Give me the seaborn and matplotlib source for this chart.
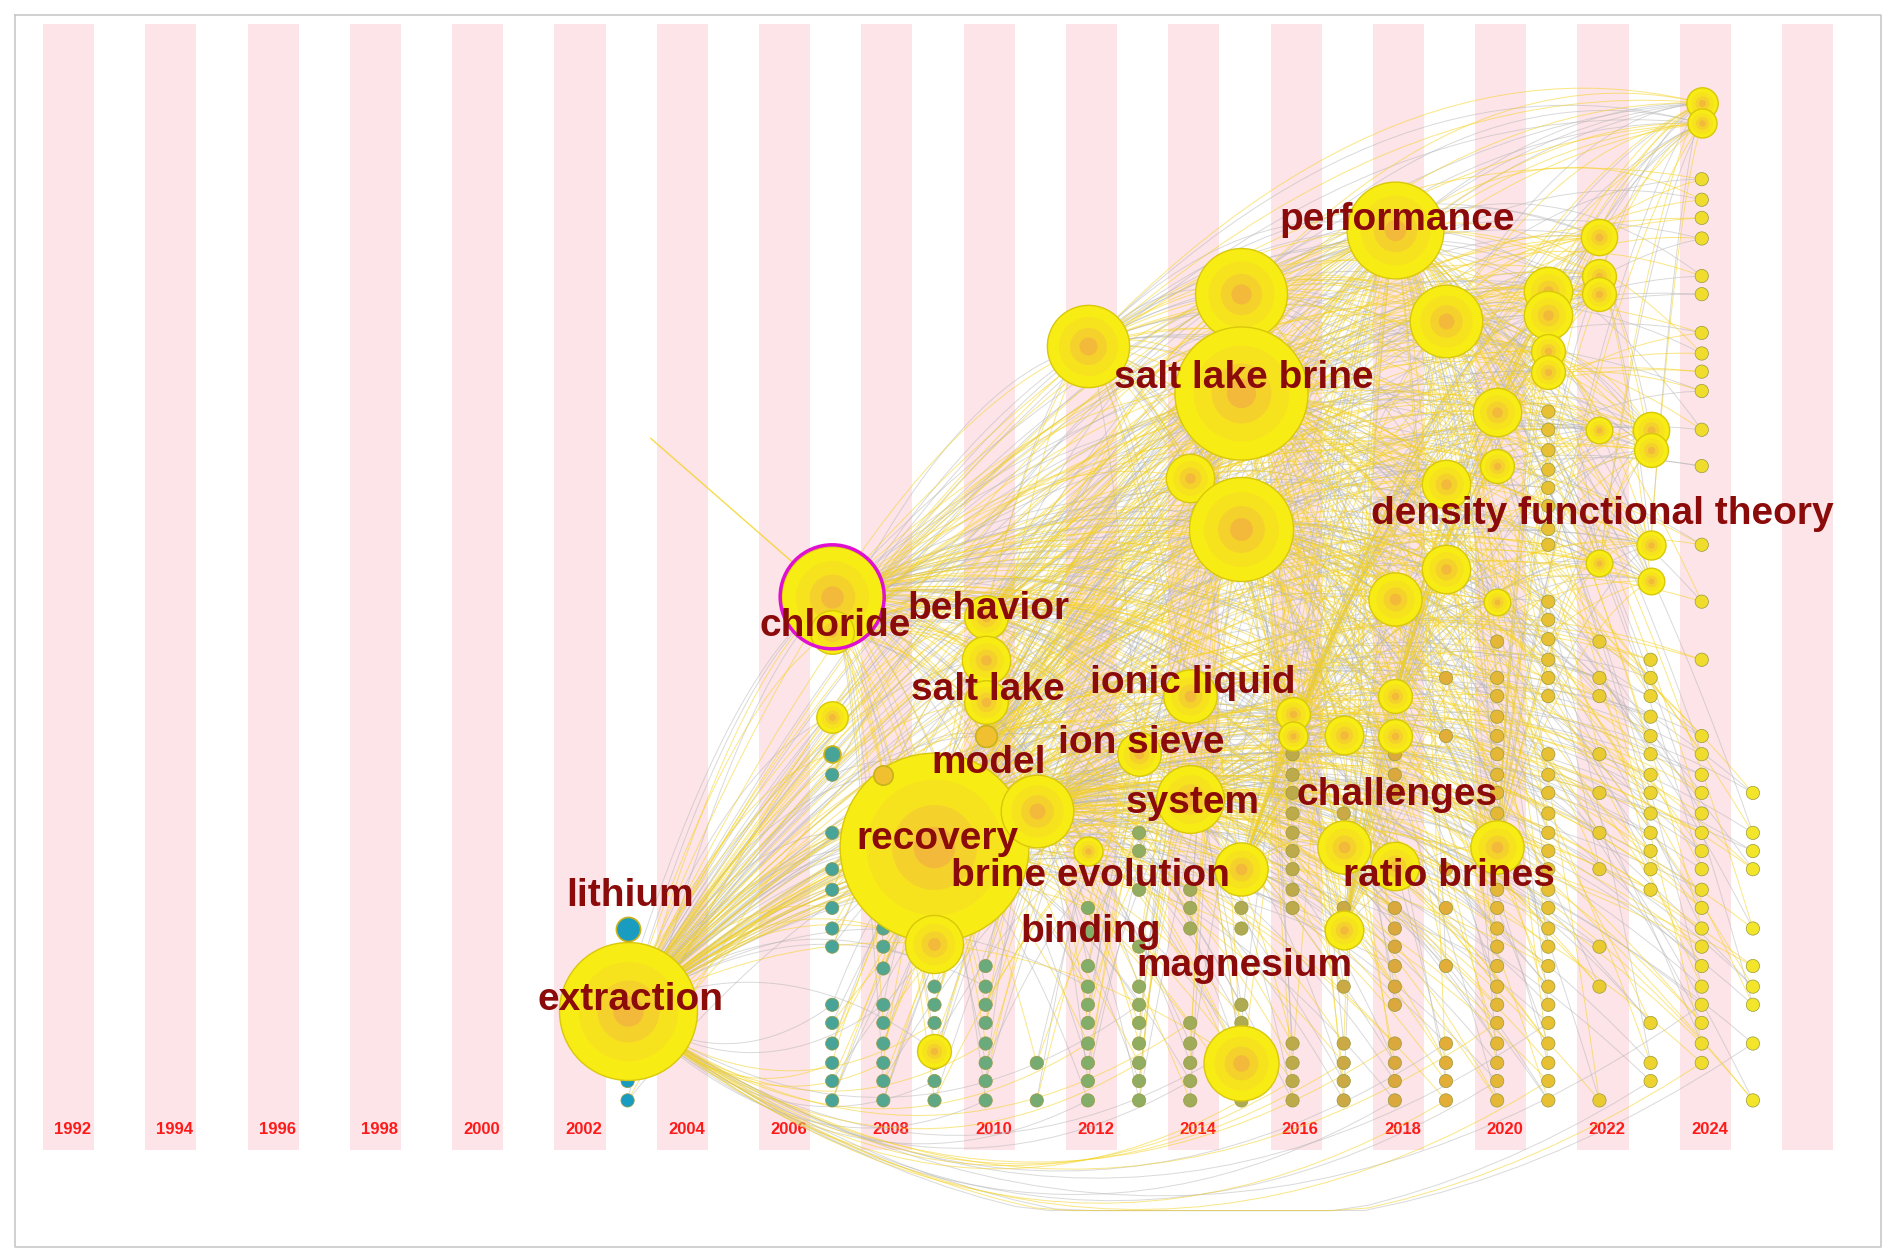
import numpy as np
import matplotlib
matplotlib.use("Agg")
import matplotlib.pyplot as plt
from matplotlib.collections import LineCollection
from matplotlib.colors import LinearSegmentedColormap
import seaborn as sns
import pandas as pd

sns.set_style("white")
plt.rcParams['font.family'] = ['Liberation Sans', 'DejaVu Sans']

years = list(range(1992, 2025, 2))
stripe_years = list(range(1992, 2027, 2))

# major nodes: (year, vertical position, radius)
node_year = [2003,2003,2007,2007,2007,2007,2009,2009,2009,2010,2010,2010,2010,2011,2008,2012,2012,2013,2014,2014,2014,
             2015,2015,2015,2015,2015,2016,2016,2017,2017,2017,2018,2018,2018,2018,2018,2019,2019,2019,2020,2020,2020,2020,
             2021,2021,2021,2021,2022,2022,2022,2022,2022,2023,2023,2023,2023,2024,2024]
node_y = [835,767,493,522,592,623,700,780,868,510,545,580,608,670,640,286,703,623,395,575,660,
          243,325,437,718,878,590,608,607,700,768,190,495,575,608,715,265,400,470,340,385,497,700,
          240,260,290,307,196,228,243,355,465,355,372,450,480,85,102]
node_r = [57,10,42,18,13,7,78,24,14,18,20,18,9,30,8,34,12,18,20,22,28,
          38,55,43,22,31,14,12,16,22,16,40,22,14,14,20,30,20,20,20,14,11,22,
          20,20,14,14,15,14,14,11,11,15,14,12,11,13,12]

# small nodes per year column
small_nodes = {
    2003: [815,830,846,862,878,893,909],
    2007: [640,688,718,735,750,767,782,830,845,862,878,893,909],
    2008: [700,735,750,767,782,800,830,845,862,878,893,909],
    2009: [798,815,830,845,862,878,893,909],
    2010: [655,670,750,798,815,830,845,862,878,893,909],
    2011: [878,909],
    2012: [750,770,798,815,830,845,862,878,893,909],
    2013: [688,703,735,782,815,830,845,862,878,893,909],
    2014: [735,750,767,845,862,878,893,909],
    2015: [750,767,830,845,862,878,893,909],
    2016: [623,640,655,672,688,703,718,735,750,862,878,893,909],
    2017: [672,750,815,862,878,893,909],
    2018: [623,640,655,750,767,782,798,815,830,862,878,893,909],
    2019: [560,608,718,750,798,862,878,893,909],
    2020: [530,560,575,592,608,623,640,655,672,688,735,750,767,782,798,815,830,845,862,878,893,909],
    2021: [340,355,372,388,403,418,437,450,497,512,528,545,560,575,623,640,655,672,688,703,718,735,750,767,782,798,815,830,845,862,878,893,909],
    2022: [530,560,575,623,655,688,718,782,815,909],
    2023: [545,560,575,592,608,623,640,655,672,688,703,718,735,845,878,893],
    2024: [148,165,180,197,228,243,275,292,307,323,355,385,450,497,545,608,623,640,655,672,688,703,718,735,750,767,782,798,815,830,845,862,878],
    2025: [655,688,703,718,767,798,815,830,862,909],
}

label_text = ["performance","salt lake brine","density functional theory","behavior","chloride","salt lake",
              "ionic liquid","ion sieve","model","system","challenges","recovery","brine evolution",
              "ratio brines","lithium","binding","magnesium","extraction"]
label_year = [2018,2015,2022,2010,2007,2010,2014,2013,2010,2014,2018,2009,2012,2019,2003,2012,2015,2003]
label_y = [182,312,425,503,517,570,564,614,630,663,657,693,724,724,740,770,798,826]

OFF = -0.15
PX = 42.28  # px per year in layout space

fig = plt.figure(figsize=(18.97, 12.59), dpi=100)
ax = fig.add_axes([0, 0, 1, 1])
XL = (1992 - 60 / PX, 1992 + (1568 - 60) / PX)
ax.set_xlim(*XL)
ax.set_ylim(1040, 0)
ax.axis('off')

x_fr0 = 1992 + (12 - 60) / PX
x_fr1 = 1992 + (1555 - 60) / PX
ax.plot([x_fr0, x_fr1, x_fr1, x_fr0, x_fr0], [12, 12, 1030, 1030, 12], color='#c8c8c8', lw=1.2, zorder=0)
for sy in stripe_years:
    ax.fill_between([sy - 0.08 - 0.5, sy - 0.08 + 0.5], 20, 950, color='#fde4e8', lw=0, zorder=0)
for yv in years:
    ax.text(yv, 933, str(yv), color='#ff1a1a', fontsize=12, fontweight='bold', ha='center', va='center', zorder=1)

cmap = LinearSegmentedColormap.from_list('yr', [(0, '#1a9cc0'), (0.4, '#7fae6a'), (0.7, '#e0a83a'), (1, '#f2e52a')])
def ycol(y):
    return cmap(np.clip((y - 2003) / 22.0, 0, 1))

all_x, all_y, all_year = [], [], []
for yr, r_y in zip(node_year, node_y):
    all_x.append(yr + OFF); all_y.append(r_y); all_year.append(yr)
for yr, ys in small_nodes.items():
    for v in ys:
        all_x.append(yr + OFF); all_y.append(v); all_year.append(yr)
nb = len(node_year)

segs_y, segs_g = [], []
t = np.linspace(0, 1, 30)
def curve(x0, y0, x1, y1, down=False):
    px0, px1 = x0 * PX, x1 * PX
    mx, my = (px0 + px1) / 2, (y0 + y1) / 2
    d = np.hypot(px1 - px0, y1 - y0)
    cy = my + 0.35 * d if down else my - 0.3 * d
    bx = (1 - t) ** 2 * px0 + 2 * t * (1 - t) * mx + t ** 2 * px1
    by = (1 - t) ** 2 * y0 + 2 * t * (1 - t) * cy + t ** 2 * y1
    by = np.clip(by, 30, 1000)
    return np.column_stack([bx / PX, by])

for i in range(nb):
    for j in range(i + 1, nb):
        if node_year[i] == node_year[j] or (i * 7 + j * 3) % 3 != 0:
            continue
        seg = curve(all_x[i], all_y[i], all_x[j], all_y[j])
        (segs_g if (i + j) % 2 == 0 else segs_y).append(seg)
for k in range(nb, len(all_x)):
    for h in [0, 6, 22, 31, 2, 13, 20, 23]:
        if all_year[k] == node_year[h] or (k + h) % 3 != 0:
            continue
        down = all_y[k] > 820 and all_y[h] > 800
        seg = curve(all_x[h], all_y[h], all_x[k], all_y[k], down=down)
        (segs_g if (k + h) % 2 == 0 else segs_y).append(seg)
ax.add_collection(LineCollection(segs_g, colors='#b4b4b4', linewidths=0.7, alpha=0.5, zorder=2))
ax.add_collection(LineCollection(segs_y, colors='#f5d21e', linewidths=0.7, alpha=0.55, zorder=2))
ax.plot([2006.85, 2003.3], [493, 362], color='#f5d21e', lw=1, alpha=0.8, zorder=2)

sm = pd.DataFrame({'x': all_x[nb:], 'y': all_y[nb:], 'yr': all_year[nb:]})
sns.scatterplot(data=sm, x='x', y='y', hue='yr', palette={y: ycol(y) for y in sm.yr.unique()},
                s=(1.742 * 5.5) ** 2, edgecolor='#9a9a40', linewidth=0.5, legend=False, ax=ax, zorder=4)
ax.set_xlabel(''); ax.set_ylabel('')
ax.set_xlim(*XL); ax.set_ylim(1040, 0)

layers = [(1.0, '#f7ec14'), (0.72, '#f7dc26'), (0.45, '#f5c635'), (0.22, '#f2aa45')]
for yr, yv, r in zip(node_year, node_y, node_r):
    x = yr + OFF
    if r <= 10:
        c = ycol(yr) if yr < 2008 else '#f0c030'
        ax.scatter([x], [yv], s=(1.742 * r) ** 2, color=c, edgecolor='#c9b21a', lw=1.2, zorder=5)
        continue
    ax.scatter([x], [yv], s=(1.742 * r) ** 2, color=layers[0][1], edgecolor='#d9c70a', lw=1.0, zorder=5)
    for f, c in layers[1:]:
        ax.scatter([x], [yv], s=(1.742 * r * f) ** 2, color=c, lw=0, alpha=0.6, zorder=5)
ax.scatter([2007 + OFF], [493], s=(1.742 * 43) ** 2, facecolor='none', edgecolor='#e010d0', lw=2.5, zorder=6)

for txt, lx, ly in zip(label_text, label_year, label_y):
    ax.text(lx + OFF + 0.05, ly, txt, color='#8b0a0a', fontsize=28, fontweight='bold', ha='center', va='center', zorder=7)

fig.savefig('out.png', dpi=100)
